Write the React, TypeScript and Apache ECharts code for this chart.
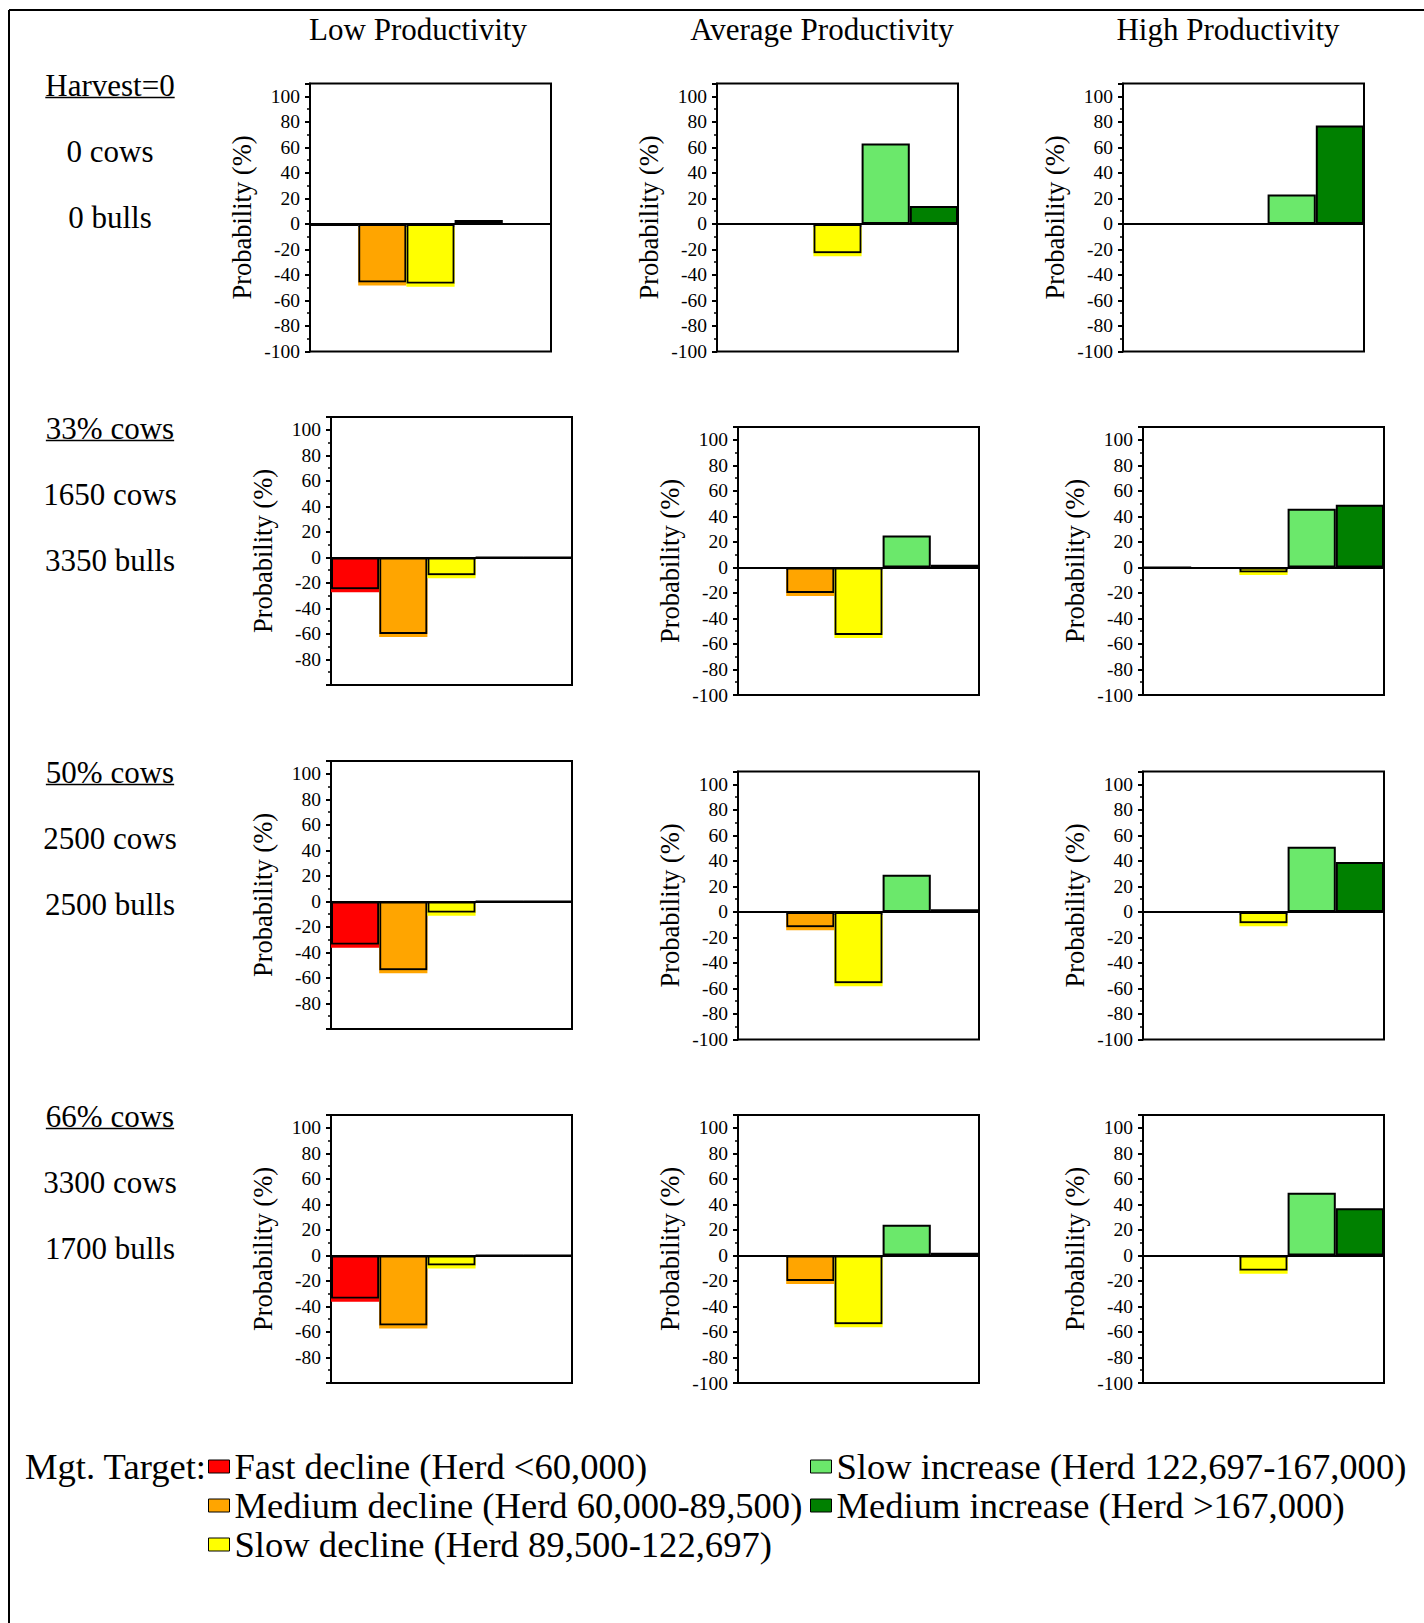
import React, { useEffect, useRef } from "react";
import * as echarts from "echarts";

// ---------- data ----------
const categories = [
  "Fast decline (Herd <60,000)",
  "Medium decline (Herd 60,000-89,500)",
  "Slow decline (Herd 89,500-122,697)",
  "Slow increase (Herd 122,697-167,000)",
  "Medium increase (Herd >167,000)",
];
const barColors = ["#FF0000", "#FFA500", "#FFFF00", "#6BE86B", "#008000"];

const columnTitles = ["Low Productivity", "Average Productivity", "High Productivity"];
const rowHeaders = ["Harvest=0", "33% cows", "50% cows", "66% cows"];
const rowCows = ["0 cows", "1650 cows", "2500 cows", "3300 cows"];
const rowBulls = ["0 bulls", "3350 bulls", "2500 bulls", "1700 bulls"];

// values: [fast decline, medium decline, slow decline, slow increase, medium increase]
const harvest0Low = [-2, -46, -47, 3, 0];
const harvest0Average = [0, -1, -23, 63, 14];
const harvest0High = [0, 0, 0, 23, 77];
const cows33Low = [-25, -60, -14, 0, 0];
const cows33Average = [-1, -20, -53, 25, 2];
const cows33High = [0, -1, -4, 46, 49];
const cows50Low = [-34, -54, -9, 0, 0];
const cows50Average = [-1, -12, -56, 29, 2];
const cows50High = [-1, 0, -9, 51, 39];
const cows66Low = [-34, -55, -8, 0, 0];
const cows66Average = [-1, -20, -54, 24, 2];
const cows66High = [-1, -1, -12, 49, 37];

const panelValues = [
  harvest0Low, harvest0Average, harvest0High,
  cows33Low, cows33Average, cows33High,
  cows50Low, cows50Average, cows50High,
  cows66Low, cows66Average, cows66High,
];

const yMin = -100;
const yMax = 110;
const yInterval = 20;
const yAxisTitle = "Probability (%)";
const legendPrefix = "Mgt. Target:";

// ---------- layout ----------
const FONT = '"Liberation Serif", "Times New Roman", serif';
const rowTops = [
  [83.5, 83.5, 83.5],
  [417, 427, 427],
  [761, 771.5, 771.5],
  [1115, 1115, 1115],
];
const colLefts = [
  [310, 717, 1123],
  [331, 738, 1143],
  [331, 738, 1143],
  [331, 738, 1143],
];
const gridW = 241;
const gridH = 268;
const headerY = [85, 428, 772, 1116];
const titleCenters = [418, 822, 1228];

export default function App() {
  const ref = useRef<HTMLDivElement>(null);

  useEffect(() => {
    if (!ref.current) return;
    const chart = echarts.init(ref.current, null, { renderer: "svg" });

    const grids: any[] = [];
    const xAxes: any[] = [];
    const yAxes: any[] = [];
    const series: any[] = [];

    for (let r = 0; r < 4; r++) {
      for (let c = 0; c < 3; c++) {
        const p = r * 3 + c;
        grids.push({
          left: colLefts[r][c],
          top: rowTops[r][c],
          width: gridW,
          height: gridH,
          show: true,
          borderColor: "#000",
          borderWidth: 2,
          backgroundColor: "#fff",
        });
        xAxes.push({
          type: "category",
          gridIndex: p,
          data: categories,
          axisLine: { onZero: true, lineStyle: { color: "#000", width: 2 } },
          axisTick: { show: false },
          axisLabel: { show: false },
          splitLine: { show: false },
        });
        yAxes.push({
          type: "value",
          gridIndex: p,
          min: yMin,
          max: yMax,
          interval: yInterval,
          name: yAxisTitle,
          nameLocation: "middle",
          nameGap: 55,
          nameTextStyle: { fontFamily: FONT, fontSize: 26.5, color: "#000" },
          axisLine: { show: true, lineStyle: { color: "#000", width: 2 } },
          axisTick: { show: true, length: 5, lineStyle: { color: "#000", width: 2 } },
          minorTick: { show: true, splitNumber: 2, length: 3, lineStyle: { color: "#000", width: 1.5 } },
          splitLine: { show: false },
          axisLabel: {
            fontFamily: FONT,
            fontSize: 19.5,
            color: "#000",
            margin: 10,
            showMaxLabel: false,
            showMinLabel: !(c === 0 && r > 0),
            formatter: (v: number) => (v > 100 ? "" : String(v)),
          },
        });
        const vals = panelValues[p];
        for (let k = 0; k < 5; k++) {
          series.push({
            type: "bar",
            name: categories[k],
            xAxisIndex: p,
            yAxisIndex: p,
            barGap: "-100%",
            barCategoryGap: "0%",
            itemStyle: { color: barColors[k], borderColor: "#000", borderWidth: 2 },
            emphasis: { disabled: true },
            data: vals.map((v, i) =>
              i === k
                ? v < 0
                  ? {
                      value: v,
                      itemStyle: { shadowColor: barColors[k], shadowOffsetY: 3, shadowBlur: 0 },
                    }
                  : v
                : "-"
            ),
          });
        }
      }
    }

    const graphics: any[] = [];
    // frame
    graphics.push({ type: "line", shape: { x1: 9, y1: 10, x2: 1424, y2: 10 }, style: { stroke: "#000", lineWidth: 2 } });
    graphics.push({ type: "line", shape: { x1: 9, y1: 10, x2: 9, y2: 1623 }, style: { stroke: "#000", lineWidth: 2 } });

    const mkText = (text: string, x: number, y: number, size: number, align: string) => ({
      type: "text",
      style: {
        text,
        x,
        y,
        fill: "#000",
        font: `${size}px ${FONT}`,
        textAlign: align,
        textVerticalAlign: "middle",
        align,
        verticalAlign: "middle",
      },
    });

    columnTitles.forEach((t, i) => graphics.push(mkText(t, titleCenters[i], 29, 31, "center")));

    const canvas = document.createElement("canvas");
    const ctx = canvas.getContext("2d")!;
    ctx.font = `31px ${FONT}`;
    for (let r = 0; r < 4; r++) {
      const y0 = headerY[r];
      graphics.push(mkText(rowHeaders[r], 110, y0, 31, "center"));
      const w = ctx.measureText(rowHeaders[r]).width;
      graphics.push({
        type: "line",
        shape: { x1: 110 - w / 2, y1: y0 + 12.5, x2: 110 + w / 2, y2: y0 + 12.5 },
        style: { stroke: "#000", lineWidth: 1.5 },
      });
      graphics.push(mkText(rowCows[r], 110, y0 + 66, 31, "center"));
      graphics.push(mkText(rowBulls[r], 110, y0 + 132, 31, "center"));
    }
    graphics.push(mkText(legendPrefix, 25, 1466, 36.6, "left"));

    const legendBase = {
      orient: "vertical",
      top: 1448,
      padding: 0,
      itemWidth: 21,
      itemHeight: 13,
      itemGap: 2,
      icon: "rect",
      selectedMode: false,
      itemStyle: { borderWidth: 1, borderColor: "#000" },
      textStyle: { fontFamily: FONT, fontSize: 36.6, color: "#000", padding: [0, 0, 0, 0] },
    };

    chart.setOption({
      animation: false,
      backgroundColor: "#fff",
      grid: grids,
      xAxis: xAxes,
      yAxis: yAxes,
      series,
      legend: [
        { ...legendBase, left: 208, data: categories.slice(0, 3) },
        { ...legendBase, left: 810, data: categories.slice(3) },
      ],
      graphic: graphics,
    });

    return () => chart.dispose();
  }, []);

  return (
    <div
      ref={ref}
      style={{ position: "absolute", left: 0, top: 0, width: 1424, height: 1623 }}
    />
  );
}
